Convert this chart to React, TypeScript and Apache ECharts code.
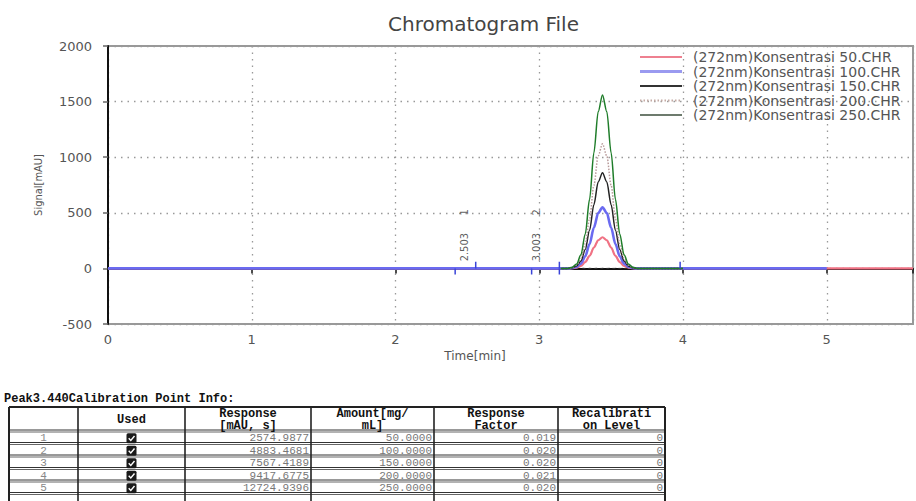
import React, { useEffect, useRef } from "react";
import * as echarts from "echarts";

// ---------- chart data ----------
const seriesNames = [
  "(272nm)Konsentrasi 50.CHR",
  "(272nm)Konsentrasi 100.CHR",
  "(272nm)Konsentrasi 150.CHR",
  "(272nm)Konsentrasi 200.CHR",
  "(272nm)Konsentrasi 250.CHR",
];
const peakTimes = [3.2, 3.23, 3.26, 3.29, 3.32, 3.35, 3.38, 3.41, 3.44, 3.47, 3.5, 3.53, 3.56, 3.59, 3.62, 3.65, 3.68];
const conc50 = [0, 2, 7, 22, 56, 112, 187, 253, 280, 253, 187, 112, 56, 22, 7, 2, 0];
const conc100 = [0, 4, 14, 43, 109, 219, 366, 497, 550, 497, 366, 219, 109, 43, 14, 4, 0];
const conc150 = [0, 6, 22, 67, 171, 343, 573, 777, 860, 777, 573, 343, 171, 67, 22, 6, 0];
const conc200 = [0, 8, 28, 88, 222, 446, 746, 1012, 1120, 1012, 746, 446, 222, 88, 28, 8, 0];
const conc250 = [0, 11, 40, 122, 310, 621, 1039, 1409, 1560, 1409, 1039, 621, 310, 122, 40, 11, 0];
const traceStart = [0, 0, 3.15, 3.15, 3.15];
const traceEnd = [5.6, 5.0, 4.0, 4.0, 4.0];

const integrationBaseline = [3.3, 3.62];
const markerDown = [2.415, 2.947, 3.14];
const markerUp = [2.558, 3.14, 3.98];
const peakLabelTimes = [2.48, 2.98];
const peakLabelTexts = ["2.503", "3.003"];
const peakNumbers = ["1", "2"];

const xTicks = [0, 1, 2, 3, 4, 5];
const yTicks = [-500, 0, 500, 1000, 1500, 2000];

// ---------- table data ----------
const tableTitle = "Peak3.440Calibration Point Info:";
const tableHeaders = ["", "Used", "Response\n[mAU, s]", "Amount[mg/\nmL]", "Response\nFactor", "Recalibrati\non Level"];
const rowIds = ["1", "2", "3", "4", "5"];
const responses = ["2574.9877", "4883.4681", "7567.4189", "9417.6775", "12724.9396"];
const amounts = ["50.0000", "100.0000", "150.0000", "200.0000", "250.0000"];
const factors = ["0.019", "0.020", "0.020", "0.021", "0.020"];
const levels = ["0", "0", "0", "0", "0"];

const seriesValues = [conc50, conc100, conc150, conc200, conc250];
const seriesStyles = [
  { color: "#f07284", width: 2.2, type: "solid" },
  { color: "#6a6af0", width: 2.6, type: "solid" },
  { color: "#222222", width: 1.5, type: "solid" },
  { color: "#b89a9a", width: 1.5, type: "dotted" },
  { color: "#1f7d2a", width: 1.5, type: "solid" },
];
const legendStyles = [
  { color: "#ee8090", width: 2, dash: null },
  { color: "#9a9af0", width: 3, dash: null },
  { color: "#333333", width: 2, dash: null },
  { color: "#c4aaa4", width: 2, dash: [1.5, 2] },
  { color: "#3c4f3c", width: 1.6, dash: null },
];

const sans = '"DejaVu Sans", Verdana, sans-serif';
const mono = '"Liberation Mono", "DejaVu Sans Mono", monospace';

function buildLegend(): any[] {
  const els: any[] = [];
  const rowY = [57, 71.5, 86, 100.5, 115];
  seriesNames.forEach((name, i) => {
    const st = legendStyles[i];
    els.push({
      type: "line",
      shape: { x1: 640, y1: rowY[i], x2: 682, y2: rowY[i] },
      style: { stroke: st.color, lineWidth: st.width, lineDash: st.dash || undefined },
      z: 20,
    });
    els.push({
      type: "text",
      x: 693,
      y: rowY[i],
      z: 20,
      style: { text: name, fill: "#555", font: `14px ${sans}`, align: "left", verticalAlign: "middle" },
    });
  });
  return els;
}

function buildTable(): any[] {
  const els: any[] = [];
  const colX = [9, 78, 185, 311, 434, 558, 665];
  const top = 407;
  const headBottom = 431;
  const rowH = 12.5;
  const bottom = headBottom + rowH * rowIds.length;

  els.push({
    type: "text",
    x: 4,
    y: 399,
    style: { text: tableTitle, fill: "#111", font: `bold 12px ${mono}`, align: "left", verticalAlign: "middle" },
  });
  els.push({ type: "line", shape: { x1: colX[0], y1: top, x2: colX[6], y2: top }, style: { stroke: "#222", lineWidth: 2 } });
  for (let r = 0; r <= rowIds.length; r++) {
    const y = headBottom + r * rowH;
    els.push({ type: "line", shape: { x1: colX[0], y1: y - 1, x2: colX[6], y2: y - 1 }, style: { stroke: "#333", lineWidth: 1 } });
    els.push({ type: "line", shape: { x1: colX[0], y1: y + 1, x2: colX[6], y2: y + 1 }, style: { stroke: "#666", lineWidth: 1 } });
  }
  colX.forEach((x, i) => {
    els.push({
      type: "line",
      shape: { x1: x, y1: top, x2: x, y2: bottom + 10 },
      style: { stroke: "#222", lineWidth: i === 0 || i === 6 ? 2 : 1.6 },
    });
  });
  tableHeaders.forEach((h, i) => {
    if (!h) return;
    els.push({
      type: "text",
      x: (colX[i] + colX[i + 1]) / 2,
      y: (top + headBottom) / 2 + 1,
      style: { text: h, fill: "#111", font: `bold 12px ${mono}`, lineHeight: 12.5, align: "center", verticalAlign: "middle" },
    });
  });
  rowIds.forEach((id, r) => {
    const cy = headBottom + r * rowH + rowH / 2 + 1;
    const dataFont = `11px ${mono}`;
    els.push({ type: "text", x: (colX[0] + colX[1]) / 2, y: cy, style: { text: id, fill: "#888", font: dataFont, align: "center", verticalAlign: "middle" } });
    const cx = (colX[1] + colX[2]) / 2;
    els.push({ type: "rect", shape: { x: cx - 5, y: cy - 5, width: 10, height: 10, r: 1.5 }, style: { fill: "#1a1a1a" } });
    els.push({
      type: "polyline",
      shape: { points: [[cx - 2.8, cy], [cx - 0.7, cy + 2.2], [cx + 3, cy - 2.2]] },
      style: { stroke: "#fff", lineWidth: 1.4, fill: null },
    });
    const cells = [responses[r], amounts[r], factors[r], levels[r]];
    cells.forEach((txt, k) => {
      els.push({
        type: "text",
        x: colX[k + 3] - 2,
        y: cy,
        style: { text: txt, fill: "#777", font: dataFont, align: "right", verticalAlign: "middle" },
      });
    });
  });
  return els;
}

export default function App() {
  const ref = useRef<HTMLDivElement>(null);

  useEffect(() => {
    if (!ref.current) return;
    const chart = echarts.init(ref.current, undefined, { renderer: "svg" });

    const traces = seriesNames.map((name, i) => ({
      name,
      type: "line",
      symbol: "none",
      smooth: 0.3,
      smoothMonotone: "x",
      lineStyle: { color: seriesStyles[i].color, width: seriesStyles[i].width, type: seriesStyles[i].type },
      itemStyle: { color: seriesStyles[i].color },
      z: 2 + i,
      data: [
        [traceStart[i], 0],
        ...peakTimes.map((t, k) => [t, seriesValues[i][k]]),
        [traceEnd[i], 0],
      ],
    }));

    const markerSeries: any[] = [];
    markerDown.forEach((t) =>
      markerSeries.push({
        type: "line",
        symbol: "none",
        silent: true,
        z: 8,
        lineStyle: { color: "#3a44d8", width: 1.5 },
        data: [[t, 0], [t, -55]],
      })
    );
    markerUp.forEach((t) =>
      markerSeries.push({
        type: "line",
        symbol: "none",
        silent: true,
        z: 8,
        lineStyle: { color: "#3a44d8", width: 1.5 },
        data: [[t, 0], [t, 60]],
      })
    );
    markerSeries.push({
      type: "line",
      symbol: "none",
      silent: true,
      z: 9,
      lineStyle: { color: "#333", width: 1, type: [3, 3] },
      data: integrationBaseline.map((t) => [t, 0]),
    });

    const labelSeries = (texts: string[], yVal: number) => ({
      type: "scatter",
      symbolSize: 1,
      silent: true,
      z: 10,
      itemStyle: { color: "rgba(0,0,0,0)" },
      label: {
        show: true,
        position: "top",
        distance: 0,
        rotate: 90,
        align: "left",
        verticalAlign: "middle",
        color: "#333",
        fontSize: 11,
        fontFamily: '"DejaVu Sans Condensed", "DejaVu Sans", sans-serif',
        formatter: (p: any) => texts[p.dataIndex],
      },
      data: peakLabelTimes.map((t) => [t, yVal]),
    });

    const gridLine = { show: true, lineStyle: { type: [1.5, 5], color: "#999", width: 1.3 } };

    const option: any = {
      animation: false,
      backgroundColor: "#ffffff",
      title: {
        text: "Chromatogram File",
        left: 383,
        top: 9,
        textStyle: { fontFamily: sans, fontSize: 20, fontWeight: "normal", color: "#444" },
      },
      grid: {
        left: 108,
        top: 46,
        width: 821,
        height: 278,
        show: true,
        borderColor: "#999",
        borderWidth: 2,
      },
      xAxis: {
        type: "value",
        min: 0,
        max: 5.6,
        interval: 1,
        axisLine: { lineStyle: { color: "#111", width: 2 } },
        axisTick: { length: 5, lineStyle: { color: "#111", width: 1.5 } },
        axisLabel: {
          color: "#555",
          fontSize: 13,
          fontFamily: sans,
          margin: 9,
          formatter: (v: number) => (xTicks.includes(v) ? String(v) : ""),
        },
        splitLine: gridLine,
      },
      yAxis: {
        type: "value",
        min: -500,
        max: 2000,
        interval: 500,
        name: "Signal[mAU]",
        nameLocation: "middle",
        nameGap: 64,
        nameRotate: 90,
        nameTextStyle: {
          color: "#555",
          fontSize: 11,
          fontFamily: '"DejaVu Sans Condensed", "DejaVu Sans", sans-serif',
        },
        axisLine: { show: true, lineStyle: { color: "#111", width: 2 } },
        axisTick: { show: true, length: 5, lineStyle: { color: "#666", width: 1.5 } },
        axisLabel: {
          color: "#555",
          fontSize: 13,
          fontFamily: sans,
          margin: 16,
          formatter: (v: number) => (yTicks.includes(v) ? String(v) : ""),
        },
        splitLine: gridLine,
      },
      graphic: [
        {
          type: "text",
          x: 475,
          y: 356,
          style: { text: "Time[min]", fill: "#555", font: `12px ${sans}`, align: "center", verticalAlign: "middle" },
        },
        ...buildLegend(),
        ...buildTable(),
      ],
      series: [...traces, ...markerSeries, labelSeries(peakLabelTexts, 59), labelSeries(peakNumbers, 472)],
    };
    chart.setOption(option);
    return () => chart.dispose();
  }, []);

  return (
    <div
      ref={ref}
      style={{ position: "fixed", left: 0, top: 0, width: 916, height: 501, background: "#fff" }}
    />
  );
}
